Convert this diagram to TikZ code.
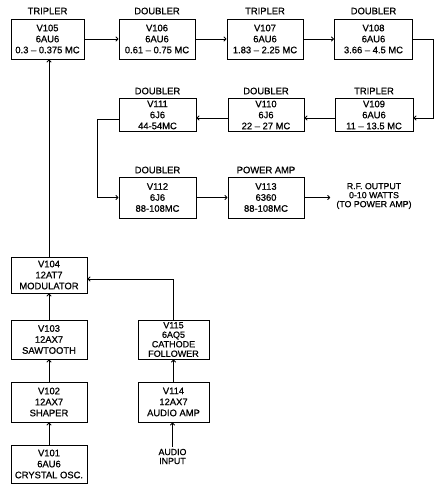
\documentclass[tikz,border=0pt]{standalone}
\usepackage{fontspec}
\setmainfont{Liberation Sans}[FakeBold=0.8]
\usetikzlibrary{arrows.meta}
\begin{document}
\begin{tikzpicture}[x=1pt,y=-1pt,
  font=\fontsize{9.4}{11}\selectfont,
  blk/.style={draw,line width=1pt,inner sep=0pt,align=center,minimum width=76pt,minimum height=40pt},
  lbl/.style={align=center,inner sep=0pt},
  small/.style={align=center,inner sep=0pt,font=\fontsize{8.8}{9}\selectfont},
  tight/.style={font=\fontsize{9}{9.5}\selectfont},
  conn/.style={line width=1pt,-{To[length=3pt,width=5pt]}}]
\useasboundingbox (0,0) rectangle (443,490);
% row 1
\node[blk,minimum width=73pt] (v105) at (47.5,39) {V105\\6AU6\\0.3 – 0.375 MC};
\node[blk] (v106) at (157,39) {V106\\6AU6\\0.61 – 0.75 MC};
\node[blk] (v107) at (265,39) {V107\\6AU6\\1.83 – 2.25 MC};
\node[blk,minimum width=78pt] (v108) at (373.5,39) {V108\\6AU6\\3.66 – 4.5 MC};
\node[lbl] (t105) at (47.5,11) {TRIPLER};
\node[lbl] (t106) at (157,11) {DOUBLER};
\node[lbl] (t107) at (265,11) {TRIPLER};
\node[lbl] (t108) at (373.5,11) {DOUBLER};
% row 2
\node[blk,minimum width=78pt,minimum height=33pt] (v109) at (374,115) {V109\\6AU6\\11 – 13.5 MC};
\node[blk,minimum height=33pt] (v110) at (266,115) {V110\\6J6\\22 – 27 MC};
\node[blk,minimum width=77pt,minimum height=33pt] (v111) at (157.5,115) {V111\\6J6\\44-54MC};
\node[lbl] (t109) at (374,91) {TRIPLER};
\node[lbl] (t110) at (266,91) {DOUBLER};
\node[lbl] (t111) at (157.5,91) {DOUBLER};
% row 3
\node[blk,minimum width=77pt,minimum height=41pt] (v112) at (157.5,197.5) {V112\\6J6\\88-108MC};
\node[blk,minimum height=41pt] (v113) at (266,197.5) {V113\\6360\\88-108MC};
\node[lbl] (t112) at (157.5,170) {DOUBLER};
\node[lbl] (t113) at (266,170) {POWER AMP};
\node[small] (rf) at (374,196) {R.F. OUTPUT\\0-10 WATTS\\(TO POWER AMP)};
% left column
\node[blk,minimum height=36pt] (v104) at (49,275) {V104\\12AT7\\MODULATOR};
\node[blk,minimum height=39pt] (v103) at (49,339.5) {V103\\12AX7\\SAWTOOTH};
\node[blk,minimum height=40pt] (v102) at (49,402) {V102\\12AX7\\SHAPER};
\node[blk,minimum height=38pt] (v101) at (49,464) {V101\\6AU6\\CRYSTAL OSC.};
\node[blk,tight,minimum width=71pt,minimum height=39pt] (v115) at (173.5,339.5) {V115\\6AQ5\\CATHODE\\FOLLOWER};
\node[blk,minimum width=71pt,minimum height=40pt] (v114) at (173.5,402) {V114\\12AX7\\AUDIO AMP};
\node[small] (audio) at (172.5,456.5) {AUDIO\\INPUT};
% connectors
\coordinate (c1) at (433,39);
\coordinate (c2) at (97,119);
\draw[conn] (v105.east) -- (v106.west);
\draw[conn] (v106.east) -- (v107.west);
\draw[conn] (v107.east) -- (v108.west);
\draw[conn] (v108.east) -- (c1) |- ([yshift=-3pt]v109.east);
\draw[conn] ([yshift=-3pt]v109.west) -- ([yshift=-3pt]v110.east);
\draw[conn] ([yshift=-3pt]v110.west) -- ([yshift=-3pt]v111.east);
\draw[conn] ([yshift=-4pt]v111.west) -- (c2) |- (v112.west);
\draw[conn] (v112.east) -- (v113.west);
\draw[conn,shorten >=6pt] (v113.east) -- (rf.west |- v113.east);
\draw[conn] (v104.north) -- (v104.north |- v105.south);
\draw[conn] (v103.north) -- (v104.south);
\draw[conn] (v102.north) -- (v103.south);
\draw[conn] (v101.north) -- (v102.south);
\draw[conn] (v115.north) |- ([yshift=-4pt]v104.east);
\draw[conn] (v114.north) -- (v115.south);
\draw[conn,shorten <=2pt] (audio.north) -- (audio.north |- v114.south);
\end{tikzpicture}
\end{document}
